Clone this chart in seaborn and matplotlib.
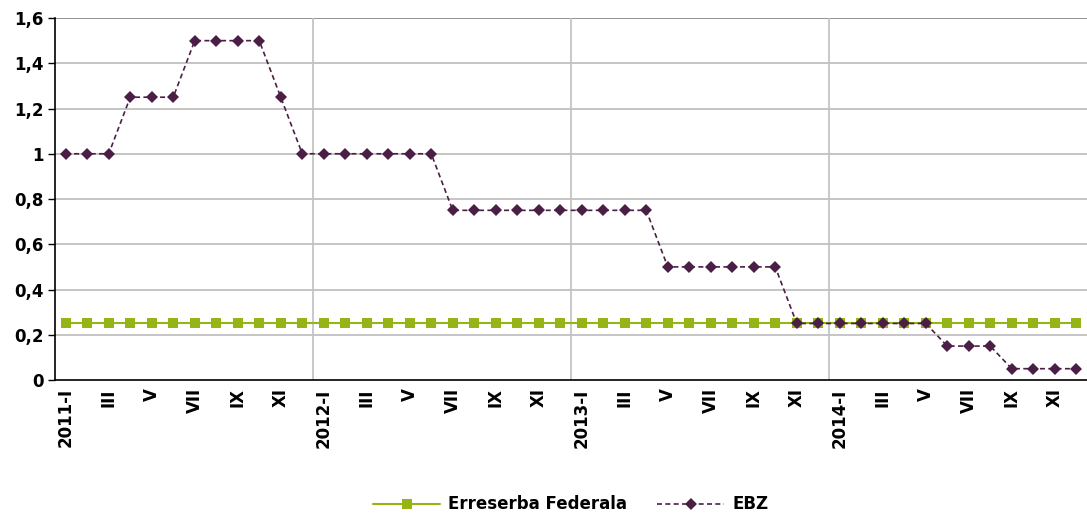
import numpy as np
import pandas as pd
import seaborn as sns
import matplotlib.pyplot as plt

# monthly rates 2011-I .. 2014-XII
fed = [0.25] * 48
ebz = [1, 1, 1, 1.25, 1.25, 1.25, 1.5, 1.5, 1.5, 1.5, 1.25, 1,
       1, 1, 1, 1, 1, 1, 0.75, 0.75, 0.75, 0.75, 0.75, 0.75,
       0.75, 0.75, 0.75, 0.75, 0.5, 0.5, 0.5, 0.5, 0.5, 0.5, 0.25, 0.25,
       0.25, 0.25, 0.25, 0.25, 0.25, 0.15, 0.15, 0.15, 0.05, 0.05, 0.05, 0.05]
years = [2011, 2012, 2013, 2014]
months = ["I", "III", "V", "VII", "IX", "XI"]

x = np.arange(48)
data = pd.DataFrame({"x": x, "fed": fed, "ebz": ebz})

green = "#94b515"
purple = "#4b1f45"

sns.set_style("white")
plt.rcParams['font.family'] = ['DejaVu Sans']
plt.rcParams['text.color'] = 'black'
plt.rcParams['xtick.color'] = 'black'
plt.rcParams['ytick.color'] = 'black'

fig = plt.figure(figsize=(10.87, 5.18), dpi=100)
ax = fig.add_axes([0.0506, 0.2664, 0.9494, 0.6988])

sns.lineplot(data=data, x="x", y="fed", ax=ax, color=green, lw=1.5,
             marker="s", markersize=6.5, markeredgewidth=0, label="Erreserba Federala")
sns.lineplot(data=data, x="x", y="ebz", ax=ax, color=purple, lw=1.2, linestyle=(0, (3, 2)),
             marker="D", markersize=6.5, markeredgewidth=0, label="EBZ")

ax.set_xlim(-0.5, 47.5)
ax.set_ylim(0, 1.6)
yt = np.arange(0, 1.61, 0.2)
ax.set_yticks(yt)
ax.set_yticklabels([("%g" % round(v, 1)).replace(".", ",") for v in yt],
                   fontsize=12, fontweight="bold")
for v in yt[1:]:
    ax.axhline(v, color="#bbbbbb" if v < 1.59 else "#7f7f7f", lw=1.2, zorder=0)
for b in [11.5, 23.5, 35.5]:
    ax.axvline(b, color="#c0c0c0", lw=1.2, zorder=0)

labels = []
for i in range(0, 48, 2):
    m = months[(i % 12) // 2]
    labels.append(f"{years[i // 12]}-I" if i % 12 == 0 else m)
ax.set_xticks(x[::2])
ax.set_xticklabels(labels, rotation=90, fontsize=12, fontweight="bold")
ax.set_xticks([11.5, 23.5, 35.5], minor=True)
ax.tick_params(axis="x", which="major", length=0, pad=6)
ax.tick_params(axis="x", which="minor", length=6, width=1, color="black", direction="out")
ax.tick_params(axis="y", length=5, width=1, color="black", direction="out", pad=3, left=True)

ax.set_xlabel("")
ax.set_ylabel("")
for s in ["top", "right"]:
    ax.spines[s].set_visible(False)
for s in ["left", "bottom"]:
    ax.spines[s].set_color("black")
    ax.spines[s].set_linewidth(1.2)

ax.legend(loc="lower center", bbox_to_anchor=(0.5, -0.41), ncol=2, frameon=False,
          prop={"weight": "bold", "size": 12}, handlelength=4.0, handletextpad=0.5,
          columnspacing=1.8)

fig.savefig("out.png", dpi=100)
